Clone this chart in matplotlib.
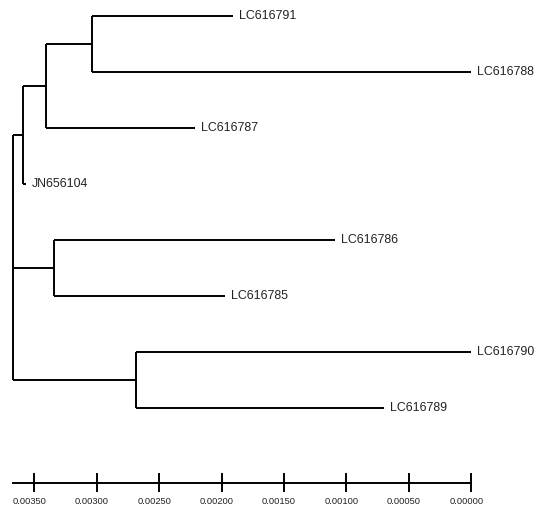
"""
    Phylogenetic tree with reversed distance scale
"""
import matplotlib.pyplot as plt

# leaves, top to bottom, with tip positions on the distance scale
leaves = ["LC616791", "LC616788", "LC616787", "JN656104",
          "LC616786", "LC616785", "LC616790", "LC616789"]
leaf_x = [0.00191, 0.00000, 0.00221, 0.00357, 0.00109, 0.00197, 0.00000, 0.00070]

# internal nodes: position on the scale and children
node_names = ["n3", "n2", "n1", "n4", "n5", "root"]
node_x = [0.003035, 0.00341, 0.00359, 0.003345, 0.002688, 0.00367]
node_children = [["LC616791", "LC616788"],
                 ["n3", "LC616787"],
                 ["n2", "JN656104"],
                 ["LC616786", "LC616785"],
                 ["LC616790", "LC616789"],
                 ["n1", "n4", "n5"]]

scale_ticks = [0.0035, 0.0030, 0.0025, 0.0020, 0.0015, 0.0010, 0.0005, 0.0]

plt.rcParams['font.family'] = ['Liberation Sans', 'DejaVu Sans']

fig = plt.figure(figsize=(5.37, 5.11), dpi=100)
ax = fig.add_axes([0, 0, 1, 1])
ax.set_xlim(0.0037746, -0.0005262)
ax.set_ylim(8.845, -0.280)
ax.axis('off')

lw = 1.4
pos = {}
for i, (name, x) in enumerate(zip(leaves, leaf_x)):
    pos[name] = (x, i)
    ax.text(x - 0.000048, i, name, va='center', ha='left', fontsize=8.9, color='#222222')

for name, x, kids in zip(node_names, node_x, node_children):
    ys = [pos[k][1] for k in kids]
    y = (min(ys) + max(ys)) / 2
    pos[name] = (x, y)
    ax.plot([x, x], [min(ys), max(ys)], color='black', lw=lw, solid_capstyle='butt')
    for k in kids:
        kx, ky = pos[k]
        ax.plot([x, kx], [ky, ky], color='black', lw=lw, solid_capstyle='butt')

# distance scale at the bottom
bar_y = 8.339
ax.plot([node_x[-1], scale_ticks[-1]], [bar_y, bar_y], color='black', lw=lw)
for t in scale_ticks:
    ax.plot([t, t], [bar_y - 0.15, bar_y + 0.15], color='black', lw=lw)
    # labels sit a little left of their ticks in the original
    ax.text(t + 0.00004, bar_y + 0.34, f"{t:.5f}", ha='center', va='center',
            fontsize=6.7, color='#222222')

fig.savefig('out.png', dpi=100)
